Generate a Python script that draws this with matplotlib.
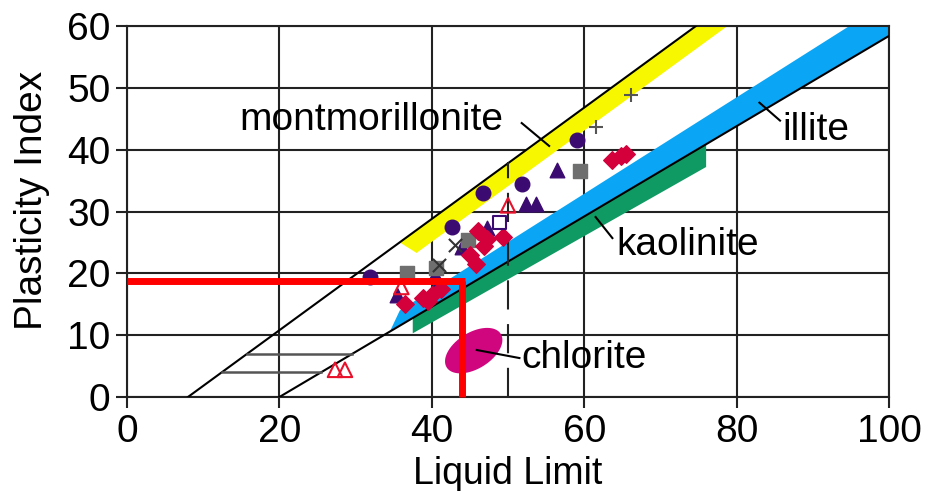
import numpy as np
import matplotlib.pyplot as plt

plt.rcParams['font.family'] = ['Liberation Sans', 'DejaVu Sans']

# sample points (liquid limit, plasticity index)
circle_ll = [31.9, 42.7, 46.7, 51.8, 59.0]
circle_pi = [19.4, 27.5, 33.0, 34.5, 41.6]
tri_ll = [35.4, 40.4, 40.7, 44.0, 47.3, 52.3, 53.7, 56.4]
tri_pi = [16.5, 19.7, 18.1, 24.3, 27.3, 31.2, 31.2, 36.7]
square_ll = [36.8, 40.6, 44.8, 59.4]
square_pi = [20.0, 20.9, 25.4, 36.6]
diamond_ll = [36.5, 38.8, 39.5, 40.0, 41.2, 45.0, 45.8, 46.0, 46.8, 47.2, 49.3, 63.6, 64.8, 65.5]
diamond_pi = [15.0, 16.0, 15.5, 16.5, 17.5, 23.0, 21.5, 26.8, 24.5, 25.5, 25.9, 38.3, 39.0, 39.3]
open_tri_ll = [27.3, 28.6, 36.0, 50.0]
open_tri_pi = [4.4, 4.4, 17.8, 31.0]
open_sq_ll = [48.9]
open_sq_pi = [28.2]
plus_ll = [61.6, 66.2]
plus_pi = [43.7, 48.9]
cross_ll = [41.0, 43.0]
cross_pi = [21.4, 24.6]

# mineral zones
yellow_ll = [35.8, 74.7, 78.8, 38.0]
yellow_pi = [25.0, 60.0, 60.0, 23.3]
blue_ll = [34.5, 100, 100, 94.8, 35.8]
blue_pi = [10.6, 58.4, 60.0, 60.0, 14.0]
green_ll = [37.5, 76, 76, 37.5]
green_pi = [12.8, 40.9, 37.2, 10.3]
chlorite_center = (45.5, 7.5)

# example soil
soil_ll = 44.0
soil_pi = 18.8

labels = ['montmorillonite', 'illite', 'kaolinite', 'chlorite']
label_pos = [(14.8, 44.8), (86.0, 43.2), (64.2, 24.6), (51.8, 6.3)]
leaders = [((51.8, 55.4), (44.3, 40.6)), ((83.0, 85.7), (47.6, 44.7)),
           ((61.5, 63.7), (29.1, 25.7)), ((45.9, 51.5), (7.6, 6.3))]

fig = plt.figure(figsize=(9.27, 4.91), dpi=100)
ax = fig.add_axes([127/927, 94/491, 762/927, 371/491])

ax.fill(yellow_ll, yellow_pi, color='#f7f700', lw=0, zorder=1)
ax.fill(blue_ll, blue_pi, color='#0aa6f5', lw=0, zorder=1)
ax.fill(green_ll, green_pi, color='#0e9a62', lw=0, zorder=1)

t = np.linspace(0, 2*np.pi, 100)
ex = chlorite_center[0] + 3.6*np.cos(t) - 1.1*np.sin(t)
ey = chlorite_center[1] + 2.6*np.cos(t) + 2.6*np.sin(t)
ax.fill(ex, ey, color='#d0067e', lw=0, zorder=1)

# A-line and U-line
ll = np.array([20, 100])
ax.plot(ll, 0.73*(ll - 20), color='black', lw=1.5, zorder=3)
ll = np.array([8, 8 + 60/0.9])
ax.plot(ll, 0.9*(ll - 8), color='black', lw=1.5, zorder=3)

# CL-ML hatch lines
for p in [4, 7]:
    ax.plot([p/0.9 + 8, p/0.73 + 20], [p, p], color='#555555', lw=1.8, zorder=3)

ax.plot([50, 50], [0, 38], color='#222222', lw=1.5, dashes=[14, 7], zorder=3)

ms = 110
ax.scatter(circle_ll, circle_pi, s=ms, marker='o', color='#3c0b72', zorder=4)
ax.scatter(tri_ll, tri_pi, s=ms, marker='^', color='#3c0b72', zorder=4)
ax.scatter(square_ll, square_pi, s=95, marker='s', color='#6f6f6f', zorder=4)
ax.scatter(diamond_ll, diamond_pi, s=80, marker='D', color='#d4003c', zorder=4)
ax.scatter(open_tri_ll, open_tri_pi, s=ms, marker='^', facecolor='none',
           edgecolor='#e8102a', lw=1.5, zorder=4)
ax.scatter(open_sq_ll, open_sq_pi, s=95, marker='s', facecolor='none',
           edgecolor='#3c0b72', lw=1.5, zorder=4)
ax.scatter(plus_ll, plus_pi, s=90, marker='+', color='#555555', lw=1.5, zorder=4)
ax.scatter(cross_ll, cross_pi, s=90, marker='x', color='#333333', lw=1.5, zorder=4)

ax.plot([0, soil_ll + 0.4], [soil_pi, soil_pi], color='#ff0000', lw=5, zorder=5,
        solid_capstyle='butt')
ax.plot([soil_ll, soil_ll], [soil_pi, 0], color='#ff0000', lw=5, zorder=5,
        solid_capstyle='butt', clip_on=False)

for name, (x, y) in zip(labels, label_pos):
    ax.text(x, y, name, fontsize=28, ha='left', va='center', zorder=6)
for xs, ys in leaders:
    ax.plot(xs, ys, color='black', lw=1.5, zorder=6)

ax.set_xlim(0, 100)
ax.set_ylim(0, 60)
ax.set_xticks(np.arange(0, 101, 20))
ax.set_yticks(np.arange(0, 61, 10))
ax.tick_params(labelsize=28, length=8, width=1.5, color='#222222', pad=4)
ax.grid(True, color='#222222', lw=1.5, zorder=2)
ax.set_axisbelow(True)
for s in ax.spines.values():
    s.set_color('#222222')
    s.set_linewidth(1.5)

fig.text(508/927, 1 - 456/491, 'Liquid Limit', fontsize=27, ha='center', va='top')
fig.text(32/927, 1 - 200/491, 'Plasticity Index', fontsize=28, rotation=90,
         ha='center', va='center')

fig.savefig('out.png', dpi=100)
